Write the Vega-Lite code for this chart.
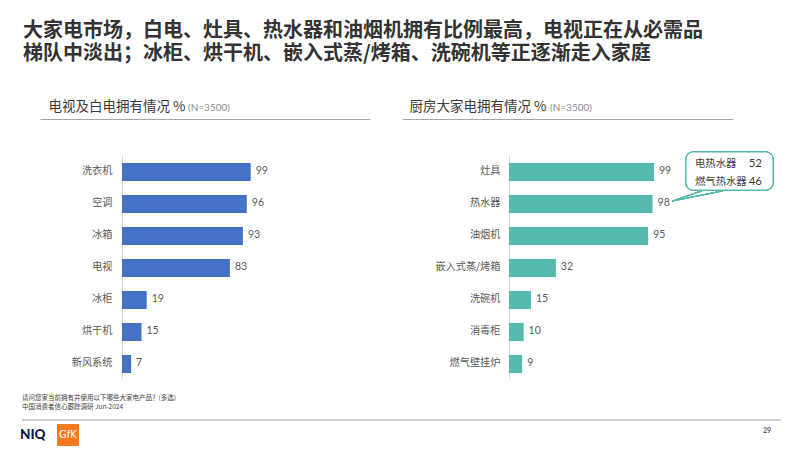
{
  "$schema": "https://vega.github.io/schema/vega-lite/v6.json",
  "background": "white",
  "padding": {"left": 20, "top": 21, "right": 0, "bottom": 0},
  "config": {"view": {"stroke": null}, "font": "Noto Sans CJK SC"},
  "title": {
    "text": ["大家电市场，白电、灶具、热水器和油烟机拥有比例最高，电视正在从必需品", "梯队中淡出；冰柜、烘干机、嵌入式蒸/烤箱、洗碗机等正逐渐走入家庭"],
    "anchor": "start", "frame": "group", "fontSize": 20, "fontWeight": "bold", "color": "#333333",
    "lineHeight": 23, "offset": 35, "font": "Noto Sans CJK SC", "dx": -17
  },
  "spacing": 16,
  "vconcat": [
    {
      "spacing": 32,
      "hconcat": [
        {
          "width": 330, "height": 224,
          "title": {"text": "(N=3500)", "anchor": "start", "frame": "group", "dx": 148, "dy": 22, "baseline": "alphabetic", "offset": 0, "fontSize": 10, "font": "Lato", "fontWeight": "normal", "color": "#8c8c8c"},
          "data": {"values": [
            {"item": "洗衣机", "pct": 99},
            {"item": "空调", "pct": 96},
            {"item": "冰箱", "pct": 93},
            {"item": "电视", "pct": 83},
            {"item": "冰柜", "pct": 19},
            {"item": "烘干机", "pct": 15},
            {"item": "新风系统", "pct": 7}
          ]},
          "layer": [
            {
              "mark": {"type": "bar", "height": {"band": 0.5}, "color": "#4472C4"},
              "encoding": {
                "y": {"field": "item", "type": "nominal", "scale": {"domain": ["洗衣机", "空调", "冰箱", "电视", "冰柜", "烘干机", "新风系统"], "paddingInner": 0, "paddingOuter": 0},
                  "axis": {"orient": "left", "offset": -82, "title": null, "ticks": false, "labelPadding": 10, "labelFontSize": 10.2, "labelColor": "#595959", "labelFont": "Noto Sans CJK SC", "domainColor": "#d9d9d9", "grid": false}},
                "x": {"field": "pct", "type": "quantitative", "scale": {"domain": [-63.1, 190.8], "nice": false},
                  "axis": {"orient": "top", "offset": 36, "labels": false, "ticks": false, "grid": false, "domainColor": "#a6a6a6", "title": "电视及白电拥有情况 %", "titleX": 8, "titleY": -9, "titleAlign": "left", "titleAnchor": "start", "titleBaseline": "alphabetic", "titleFontSize": 13.5, "titleFont": "Noto Sans CJK SC", "titleFontWeight": "normal", "titleColor": "#3a3a3a"}}
              }
            },
            {
              "mark": {"type": "text", "align": "left", "dx": 5, "fontSize": 10.5, "font": "Lato", "color": "#595959"},
              "encoding": {
                "y": {"field": "item", "type": "nominal"},
                "x": {"field": "pct", "type": "quantitative"},
                "text": {"field": "pct"}
              }
            }
          ]
        },
        {
          "width": 331, "height": 224,
          "title": {"text": "(N=3500)", "anchor": "start", "frame": "group", "dx": 148, "dy": 22, "baseline": "alphabetic", "offset": 0, "fontSize": 10, "font": "Lato", "fontWeight": "normal", "color": "#8c8c8c"},
          "data": {"values": [
            {"item": "灶具", "pct": 99},
            {"item": "热水器", "pct": 98},
            {"item": "油烟机", "pct": 95},
            {"item": "嵌入式蒸/烤箱", "pct": 32},
            {"item": "洗碗机", "pct": 15},
            {"item": "消毒柜", "pct": 10},
            {"item": "燃气壁挂炉", "pct": 9}
          ]},
          "layer": [
            {
              "mark": {"type": "bar", "height": {"band": 0.5}, "color": "#55B9AE"},
              "encoding": {
                "y": {"field": "item", "type": "nominal", "scale": {"domain": ["灶具", "热水器", "油烟机", "嵌入式蒸/烤箱", "洗碗机", "消毒柜", "燃气壁挂炉"], "paddingInner": 0, "paddingOuter": 0},
                  "axis": {"orient": "left", "offset": -107, "title": null, "ticks": false, "labelPadding": 9, "labelFontSize": 10.2, "labelColor": "#595959", "labelFont": "Noto Sans CJK SC", "domainColor": "#d9d9d9", "grid": false}},
                "x": {"field": "pct", "type": "quantitative", "scale": {"domain": [-73.0, 152.9], "nice": false},
                  "axis": {"orient": "top", "offset": 36, "labels": false, "ticks": false, "grid": false, "domainColor": "#a6a6a6", "title": "厨房大家电拥有情况 %", "titleX": 7, "titleY": -9, "titleAlign": "left", "titleAnchor": "start", "titleBaseline": "alphabetic", "titleFontSize": 13.5, "titleFont": "Noto Sans CJK SC", "titleFontWeight": "normal", "titleColor": "#3a3a3a"}}
              }
            },
            {
              "mark": {"type": "text", "align": "left", "dx": 5, "fontSize": 10.5, "font": "Lato", "color": "#595959"},
              "encoding": {
                "y": {"field": "item", "type": "nominal"},
                "x": {"field": "pct", "type": "quantitative"},
                "text": {"field": "pct"}
              }
            },
            {
              "mark": {"type": "rule", "color": "#55B9AE", "strokeWidth": 1},
              "encoding": {
                "x": {"datum": 111.3, "type": "quantitative"},
                "y": {"datum": "热水器", "type": "nominal", "bandPosition": 0.44},
                "x2": {"datum": 131.7},
                "y2": {"datum": "热水器", "bandPosition": 0.12}
              }
            },
            {
              "mark": {"type": "rule", "color": "#55B9AE", "strokeWidth": 1},
              "encoding": {
                "x": {"datum": 111.3, "type": "quantitative"},
                "y": {"datum": "热水器", "type": "nominal", "bandPosition": 0.44},
                "x2": {"datum": 146.1},
                "y2": {"datum": "热水器", "bandPosition": 0.12}
              }
            },
            {
              "mark": {"type": "bar", "height": 38, "fill": "white", "stroke": "#55B9AE", "strokeWidth": 1.2, "cornerRadius": 7},
              "encoding": {
                "x": {"datum": 120.8, "type": "quantitative"},
                "x2": {"datum": 180.2},
                "y": {"datum": "灶具", "type": "nominal"}
              }
            },
            {
              "data": {"values": [
                {"name": "电热水器", "pct": 52},
                {"name": "燃气热水器", "pct": 46}
              ]},
              "layer": [
                {
                  "mark": {"type": "text", "align": "left", "fontSize": 10.3, "font": "Noto Sans CJK SC", "color": "#404040", "dy": 2},
                  "encoding": {
                    "x": {"datum": 127.0, "type": "quantitative"},
                    "y": {"datum": "灶具", "type": "nominal"},
                    "yOffset": {"field": "name", "type": "nominal", "sort": null, "scale": {"padding": 0.389}},
                    "text": {"field": "name"}
                  }
                },
                {
                  "mark": {"type": "text", "align": "right", "fontSize": 11.5, "font": "Lato", "color": "#404040", "dy": 2},
                  "encoding": {
                    "x": {"datum": 172.7, "type": "quantitative"},
                    "y": {"datum": "灶具", "type": "nominal"},
                    "yOffset": {"field": "name", "type": "nominal", "sort": null, "scale": {"padding": 0.389}},
                    "text": {"field": "pct"}
                  }
                }
              ]
            }
          ]
        }
      ]
    },
    {
      "width": 700, "height": 30,
      "title": {"text": ["请问您家当前拥有并使用以下哪些大家电产品？(多选)", "中国消费者信心跟踪调研 Jun-2024"], "anchor": "start", "frame": "group", "dx": -18, "fontSize": 6.5, "lineHeight": 8.5, "color": "#404040", "fontWeight": "normal", "offset": 9, "font": "Noto Sans CJK SC"},
      "data": {"values": [{}]},
      "layer": [
        {
          "mark": {"type": "rule", "color": "#a6a6a6", "strokeWidth": 1.2},
          "encoding": {
            "x": {"datum": -18, "type": "quantitative", "scale": {"domain": [0, 700], "nice": false, "zero": false}, "axis": null},
            "x2": {"datum": 741},
            "y": {"datum": 0, "type": "quantitative", "scale": {"domain": [0, 30], "reverse": true, "nice": false, "zero": false}, "axis": null}
          }
        },
        {
          "mark": {"type": "rect", "color": "#F47B20"},
          "encoding": {
            "x": {"datum": 17, "type": "quantitative"},
            "x2": {"datum": 39},
            "y": {"datum": 4, "type": "quantitative"},
            "y2": {"datum": 26}
          }
        },
        {
          "mark": {"type": "text", "text": "GfK", "color": "white", "fontSize": 10, "font": "DejaVu Sans", "align": "center", "baseline": "middle"},
          "encoding": {
            "x": {"datum": 28, "type": "quantitative"},
            "y": {"datum": 15, "type": "quantitative"}
          }
        },
        {
          "mark": {"type": "text", "text": "NIQ", "color": "#0b1b45", "fontSize": 13.5, "font": "Lato", "fontWeight": 900, "align": "left", "baseline": "middle"},
          "encoding": {
            "x": {"datum": -20, "type": "quantitative"},
            "y": {"datum": 15, "type": "quantitative"}
          }
        },
        {
          "mark": {"type": "text", "text": "29", "color": "#595959", "fontSize": 7, "font": "Lato", "fontWeight": "bold", "align": "center", "baseline": "middle"},
          "encoding": {
            "x": {"datum": 727, "type": "quantitative"},
            "y": {"datum": 11, "type": "quantitative"}
          }
        }
      ]
    }
  ]
}
